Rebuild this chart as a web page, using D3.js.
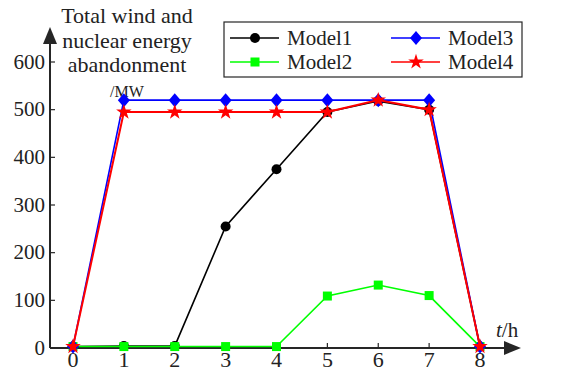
<!DOCTYPE html>
<html><head><meta charset="utf-8">
<script src="https://cdn.jsdelivr.net/npm/d3@7"></script>
<style>body{margin:0;background:#fff}svg{display:block}</style>
</head><body><svg id="c" width="564" height="371"></svg>
<script>
const hours = [0,1,2,3,4,5,6,7,8];
const model1 = [3,4,4,255,375,495,518,500,3];
const model2 = [3,3,3,3,3,109,132,110,3];
const model3 = [3,520,520,520,520,520,520,520,3];
const model4 = [3,495,495,495,495,495,520,500,3];
const yTicks = [0,100,200,300,400,500,600];
const seriesNames = ["Model1","Model2","Model3","Model4"];
const colors = ["#000000","#00ff00","#0000ff","#ff0000"];
const seriesValues = [model1, model2, model3, model4];

const FONT = "Liberation Serif";
const svg = d3.select("#c");
const x = d3.scaleLinear().domain([0,8]).range([73,480]);
const y = d3.scaleLinear().domain([0,600]).range([348,62]);
const axisColor = "#262626";
function txt(g){ return g.append("text").attr("font-family",FONT).attr("fill","#222"); }

// axes lines with arrows
svg.append("line").attr("x1",50).attr("x2",50).attr("y1",348).attr("y2",40).attr("stroke",axisColor).attr("stroke-width",2);
svg.append("path").attr("d","M50,27 L43,44 L57,44 Z").attr("fill",axisColor);
svg.append("line").attr("x1",50).attr("x2",508).attr("y1",348).attr("y2",348).attr("stroke",axisColor).attr("stroke-width",2);
svg.append("path").attr("d","M521,348 L504,341 L504,355 Z").attr("fill",axisColor);

// y ticks
yTicks.forEach(t=>{
  svg.append("line").attr("x1",50).attr("x2",55).attr("y1",y(t)).attr("y2",y(t)).attr("stroke",axisColor).attr("stroke-width",1.2);
  txt(svg).attr("x",45).attr("y",y(t)+6.5).attr("text-anchor","end").attr("font-size",21).text(t);
});
// x ticks
hours.forEach(t=>{
  svg.append("line").attr("x1",x(t)).attr("x2",x(t)).attr("y1",348).attr("y2",343).attr("stroke",axisColor).attr("stroke-width",1.2);
  txt(svg).attr("x",x(t)).attr("y",367).attr("text-anchor","middle").attr("font-size",22).text(t);
});
// axis labels
const tl = txt(svg).attr("x",496).attr("y",337).attr("font-size",21);
tl.append("tspan").attr("font-style","italic").text("t");
tl.append("tspan").text("/h");
const ylab = ["Total wind and","nuclear energy","abandonment"];
ylab.forEach((s,i)=>txt(svg).attr("x",127).attr("y",23+i*24.5).attr("text-anchor","middle").attr("font-size",22).text(s));
txt(svg).attr("x",110).attr("y",97).attr("font-size",16).text("/MW");

// markers
function marker(g, k, cx, cy, c){
  if(k===0) g.append("circle").attr("cx",cx).attr("cy",cy).attr("r",5).attr("fill",c);
  else if(k===1) g.append("rect").attr("x",cx-4.5).attr("y",cy-4.5).attr("width",9).attr("height",9).attr("fill",c);
  else if(k===2) g.append("path").attr("d",`M${cx},${cy-7} L${cx+6},${cy} L${cx},${cy+7} L${cx-6},${cy} Z`).attr("fill",c);
  else g.append("path").attr("d",d3.symbol(d3.symbolStar,75)()).attr("transform",`translate(${cx},${cy})`).attr("fill",c);
}

const line = d3.line().x((d,i)=>x(hours[i])).y(d=>y(d));
seriesValues.forEach((vals,k)=>{
  const g = svg.append("g");
  g.append("path").datum(vals).attr("d",line).attr("fill","none").attr("stroke",colors[k]).attr("stroke-width",k===3?2:1.6);
  vals.forEach((v,i)=>marker(g,k,x(hours[i]),y(v),colors[k]));
});

// legend
const lg = svg.append("g");
lg.append("rect").attr("x",224).attr("y",22).attr("width",298).attr("height",55).attr("fill","#fff").attr("stroke",axisColor).attr("stroke-width",1.2);
const pos = [[230,38],[230,62],[391,38],[391,62]];
seriesNames.forEach((n,k)=>{
  const [lx,ly]=pos[k];
  lg.append("line").attr("x1",lx).attr("x2",lx+49).attr("y1",ly).attr("y2",ly).attr("stroke",colors[k]).attr("stroke-width",1.6);
  marker(lg,k,lx+25,ly,colors[k]);
  txt(lg).attr("x",lx+57).attr("y",ly+7).attr("font-size",21).text(n);
});
</script></body></html>
